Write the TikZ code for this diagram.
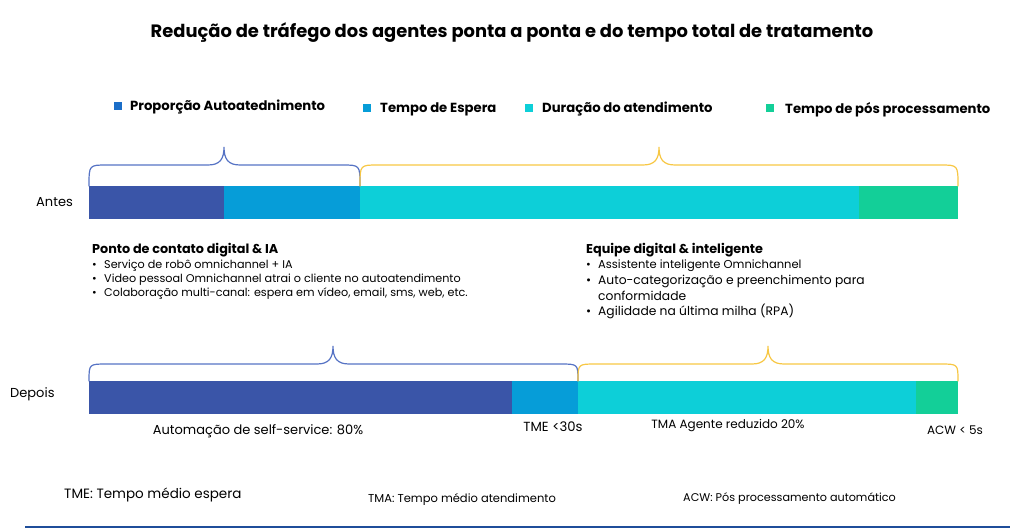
\documentclass[tikz,border=0pt]{standalone}
\usepackage{fontspec}
\setmainfont{Poppins}
\usetikzlibrary{positioning}
\definecolor{selfblue}{HTML}{3A55A8}
\definecolor{waitblue}{HTML}{069DD8}
\definecolor{talkcyan}{HTML}{0DCFD8}
\definecolor{acwgreen}{HTML}{13CF98}
\definecolor{legblue}{HTML}{1B6EC8}
\definecolor{braceblue}{HTML}{5673C4}
\definecolor{braceyellow}{HTML}{F7C744}
\definecolor{rulenavy}{HTML}{1F4E9A}
\tikzset{legend/.style = {font=\bfseries\fontsize{13.2}{15}\selectfont, anchor=west, inner sep=0pt}}
\tikzset{legbox/.style = {minimum size=8pt, inner sep=0pt}}
\tikzset{rowlabel/.style = {font=\fontsize{13}{15}\selectfont, anchor=west, inner sep=0pt}}
\tikzset{brace/.style = {line width=1.2pt, line cap=round}}
\tikzset{txt/.style = {anchor=west, inner sep=0pt}}
\tikzset{barlabel/.style = {inner sep=0pt, font=\fontsize{12.5}{15}\selectfont}}
\newcommand{\fsz}[1]{\fontsize{#1}{#1}\selectfont}
\newcommand{\timebrace}[6]{% left, mid, right, base, rise, colour
  \draw [brace, #6] (#1,#4) .. controls (#1,#4-#5) .. (#1+18,#4-#5)
    -- (#2-16,#4-#5) .. controls (#2-4,#4-#5) and (#2,#4-#5-6) .. (#2,#4-#5-18)
    .. controls (#2,#4-#5-6) and (#2+4,#4-#5) .. (#2+16,#4-#5)
    -- (#3-18,#4-#5) .. controls (#3,#4-#5) .. (#3,#4);}
\newcommand{\bul}{\makebox[12pt][l]{•}}
\begin{document}
\begin{tikzpicture}[x=1pt, y=-1pt]
  \useasboundingbox (0,0) rectangle (1024,529);
  % title
  \node [font=\bfseries\fsz{17.9}] (title) at (512,33)
    {Redução de tráfego dos agentes ponta a ponta e do tempo total de tratamento};
  % legend
  \node [legbox, fill=legblue] (sqself) at (118,106) {};
  \node [legend] (legself) at (130,107) {Proporção Autoatednimento};
  \node [legbox, fill=waitblue] (sqwait) at (367,108) {};
  \node [legend] (legwait) at (380,109) {Tempo de Espera};
  \node [legbox, fill=talkcyan] (sqtalk) at (529,108) {};
  \node [legend] (legtalk) at (542,109) {Duração do atendimento};
  \node [legbox, fill=acwgreen] (sqacw) at (770,108) {};
  \node [legend] (legacw) at (785,110) {Tempo de pós processamento};
  % antes
  \node [rowlabel] (antes) at (36,202) {Antes};
  \fill [selfblue] (89,186) rectangle (224,219);
  \fill [waitblue] (224,186) rectangle (360,219);
  \fill [talkcyan] (360,186) rectangle (859,219);
  \fill [acwgreen] (859,186) rectangle (958,219);
  \timebrace{89}{224}{360}{186}{21}{braceblue}
  \timebrace{360}{659}{958}{186}{21}{braceyellow}
  % blocos de texto
  \node [txt, font=\bfseries\fsz{12.8}] (pontohead) at (92,250) {Ponto de contato digital \& IA};
  \begin{scope}[every node/.style={txt, font=\fsz{11.2}}]
    \node (ponto1) at (92,266) {\bul Serviço de robô omnichannel + IA};
    \node (ponto2) at (92,280) {\bul Video pessoal Omnichannel atrai o cliente no autoatendimento};
    \node (ponto3) at (92,294) {\bul Colaboração multi-canal: espera em vídeo, email, sms, web, etc.};
  \end{scope}
  \node [txt, font=\bfseries\fsz{12.8}] (equipehead) at (586,250) {Equipe digital \& inteligente};
  \node [txt, font=\fsz{11.5}] (equipe1) at (586,266) {\bul Assistente inteligente Omnichannel};
  \begin{scope}[every node/.style={txt, font=\fsz{12.3}}]
    \node (equipe2) at (586,281) {\bul Auto-categorização e preenchimento para};
    \node (equipe3) at (586,296) {\hspace{12pt}conformidade};
    \node (equipe4) at (586,311) {\bul Agilidade na última milha (RPA)};
  \end{scope}
  % depois
  \node [rowlabel] (depois) at (10,394) {Depois};
  \fill [selfblue] (89,381) rectangle (512,414);
  \fill [waitblue] (512,381) rectangle (578,414);
  \fill [talkcyan] (578,381) rectangle (916,414);
  \fill [acwgreen] (916,381) rectangle (958,414);
  \timebrace{89}{333}{578}{381}{17}{braceblue}
  \timebrace{578}{768}{958}{381}{17}{braceyellow}
  \node [barlabel, font=\fsz{13}] (selfserv) at (258,431) {Automação de self-service: 80\%};
  \node [barlabel, font=\fsz{13.2}] (tme) at (553,427) {TME <30s};
  \node [barlabel, font=\fsz{12}] (tma) at (728,426) {TMA Agente reduzido 20\%};
  \node [barlabel, font=\fsz{12}] (acw) at (955,430) {ACW < 5s};
  % rodape
  \node [txt, font=\fsz{13.5}] (tmedef) at (64,495) {TME: Tempo médio espera};
  \node [txt, font=\fsz{11.5}] (tmadef) at (368,499) {TMA: Tempo médio atendimento};
  \node [txt, font=\fsz{11.2}] (acwdef) at (683,499) {ACW: Pós processamento automático};
  \draw [rulenavy, line width=1.5pt] (25,527) -- (1010,527);
\end{tikzpicture}
\end{document}
